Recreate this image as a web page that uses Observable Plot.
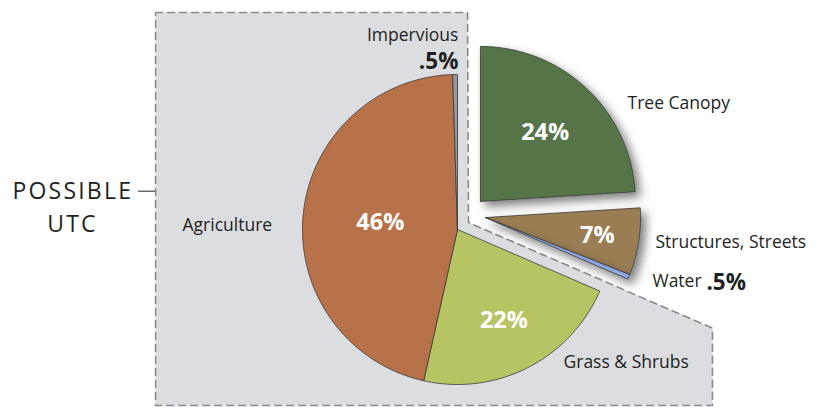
<!DOCTYPE html>
<html>
<head>
<meta charset="utf-8">
<script src="https://cdn.jsdelivr.net/npm/d3@7"></script>
<script src="https://cdn.jsdelivr.net/npm/@observablehq/plot@0.6"></script>
<style>
  body { margin: 0; background: #fff; }
  #chart { width: 824px; height: 408px; }
</style>
</head>
<body>
<div id="chart"></div>
<script>
// ---- data ----
const categories = ["Tree Canopy", "Structures, Streets", "Water", "Grass & Shrubs", "Agriculture", "Impervious"];
const shares = [24, 7, 0.5, 22, 46, 0.5];
const shareLabels = ["24%", "7%", ".5%", "22%", "46%", ".5%"];
const colors = ["#54744a", "#9a7d52", "#8ea8e2", "#b7c464", "#b8724a", "#98999c"];
const regionLabel = ["POSSIBLE", "UTC"];

// ---- layout (pie units: radius = 1, centre = 0,0, y downward) ----
const explode = [[0.148, -0.181], [0.181, -0.077], [0.181, -0.077], [0, 0], [0, 0], [0, 0]];
const insideLabelRadius = [0.61, 0.73, null, 0.66, 0.5, null];
const outsideLabels = [
  {text: "Tree Canopy", x: 1.097, y: -0.815, anchor: "start"},
  {text: "Structures, Streets", x: 1.277, y: 0.08, anchor: "start"},
  {text: "Water", x: 1.258, y: 0.335, anchor: "start"},
  {text: "Grass & Shrubs", x: 0.684, y: 0.855, anchor: "start"},
  {text: "Agriculture", x: -1.774, y: -0.026, anchor: "start"},
  {text: "Impervious", x: 0.006, y: -1.25, anchor: "end"}
];
const smallShareLabels = [
  {text: shareLabels[2], x: 1.606, y: 0.345, anchor: "start"},
  {text: shareLabels[5], x: 0.006, y: -1.085, anchor: "end"}
];

const W = 824, H = 408, R = 155, CX = 457, CY = 229;
const xDomain = [-CX / R, (W - CX) / R];
const yDomain = [-CY / R, (H - CY) / R];

const arcs = d3.pie().sort(null).value(d => d)(shares);

function slicePoints(i) {
  const a = arcs[i];
  const [ox, oy] = explode[i];
  const pts = [{x: ox, y: oy}];
  const n = Math.max(2, Math.ceil((a.endAngle - a.startAngle) / (Math.PI / 180)));
  for (let k = 0; k <= n; k++) {
    const t = a.startAngle + (a.endAngle - a.startAngle) * k / n;
    pts.push({x: ox + Math.sin(t), y: oy - Math.cos(t)});
  }
  pts.push({x: ox, y: oy});
  return pts;
}

// region polygon ("possible UTC"), diagonal parallel to the water slice edge
const waterEnd = arcs[2].endAngle;
const notch = {x: 0.071, y: -0.045};
const farX = 1.645;
const tDiag = (farX - notch.x) / Math.sin(waterEnd);
const region = [
  {x: -1.948, y: -1.4}, {x: 0.065, y: -1.4}, notch,
  {x: farX, y: notch.y - Math.cos(waterEnd) * tDiag},
  {x: farX, y: 1.135}, {x: -1.948, y: 1.135}, {x: -1.948, y: -1.4}
];

const font = "Open Sans, Noto Sans, sans-serif";
const exploded = [1, 2, 0];  // draw order for exploded slices
const attached = [3, 4, 5];

const marks = [];
marks.push(Plot.line(region, {x: "x", y: "y", fill: "#dcdde0", stroke: "#8a8a8a", strokeWidth: 1.6, strokeDasharray: "7,5"}));
for (const i of attached) {
  marks.push(Plot.line(slicePoints(i), {x: "x", y: "y", fill: colors[i], stroke: "#3a3a3a", strokeWidth: 0.8, strokeLinejoin: "round"}));
}
for (const i of exploded) {
  marks.push(Plot.line(slicePoints(i), {x: "x", y: "y", fill: colors[i], stroke: "#3a3a3a", strokeWidth: 0.8, strokeLinejoin: "round"}));
}

// percentage labels inside slices
const inside = [];
categories.forEach((c, i) => {
  if (insideLabelRadius[i] == null) return;
  const a = arcs[i];
  const m = (a.startAngle + a.endAngle) / 2;
  inside.push({text: shareLabels[i], x: explode[i][0] + insideLabelRadius[i] * Math.sin(m), y: explode[i][1] - insideLabelRadius[i] * Math.cos(m)});
});
marks.push(Plot.text(inside, {x: "x", y: "y", text: "text", fill: "white", fontSize: 23.5, fontWeight: "bold", fontFamily: font}));

for (const anchor of ["start", "end"]) {
  marks.push(Plot.text(outsideLabels.filter(d => d.anchor === anchor), {x: "x", y: "y", text: "text", textAnchor: anchor, fill: "#231f20", fontSize: 17.5, fontFamily: font}));
  marks.push(Plot.text(smallShareLabels.filter(d => d.anchor === anchor), {x: "x", y: "y", text: "text", textAnchor: anchor, fill: "#231f20", fontSize: 22.5, fontWeight: "bold", fontFamily: font}));
}

// region label
marks.push(Plot.text([{text: regionLabel[0], x: -2.871, y: -0.245}], {x: "x", y: "y", text: "text", textAnchor: "start", fill: "#231f20", fontSize: 23, fontFamily: font}));
marks.push(Plot.text([{text: regionLabel[1], x: -2.484, y: -0.032}], {x: "x", y: "y", text: "text", textAnchor: "middle", fill: "#231f20", fontSize: 23, fontFamily: font}));
marks.push(Plot.line([{x: -2.058, y: -0.247}, {x: -1.955, y: -0.247}], {x: "x", y: "y", stroke: "#6a6a6a", strokeWidth: 1.4}));

const chart = Plot.plot({
  width: W, height: H, margin: 0,
  x: {domain: xDomain, range: [0, W], axis: null},
  y: {domain: yDomain, range: [0, H], axis: null},
  style: {background: "white", fontFamily: font},
  marks
});

// drop shadows on exploded slices, letter spacing on region label
const ns = "http://www.w3.org/2000/svg";
const defs = document.createElementNS(ns, "defs");
defs.innerHTML = '<filter id="sh" x="-30%" y="-30%" width="170%" height="170%"><feDropShadow dx="5" dy="5" stdDeviation="5" flood-color="#000" flood-opacity="0.5"/></filter>';
chart.insertBefore(defs, chart.firstChild);
const lineGroups = chart.querySelectorAll(':scope > g[aria-label="line"]');
for (let k = 0; k < exploded.length; k++) {
  lineGroups[1 + attached.length + k].setAttribute("filter", "url(#sh)");
}
const textGroups = chart.querySelectorAll(':scope > g[aria-label="text"]');
textGroups[textGroups.length - 2].setAttribute("letter-spacing", "2.2");
textGroups[textGroups.length - 1].setAttribute("letter-spacing", "2.2");

document.getElementById("chart").appendChild(chart);
</script>
</body>
</html>
